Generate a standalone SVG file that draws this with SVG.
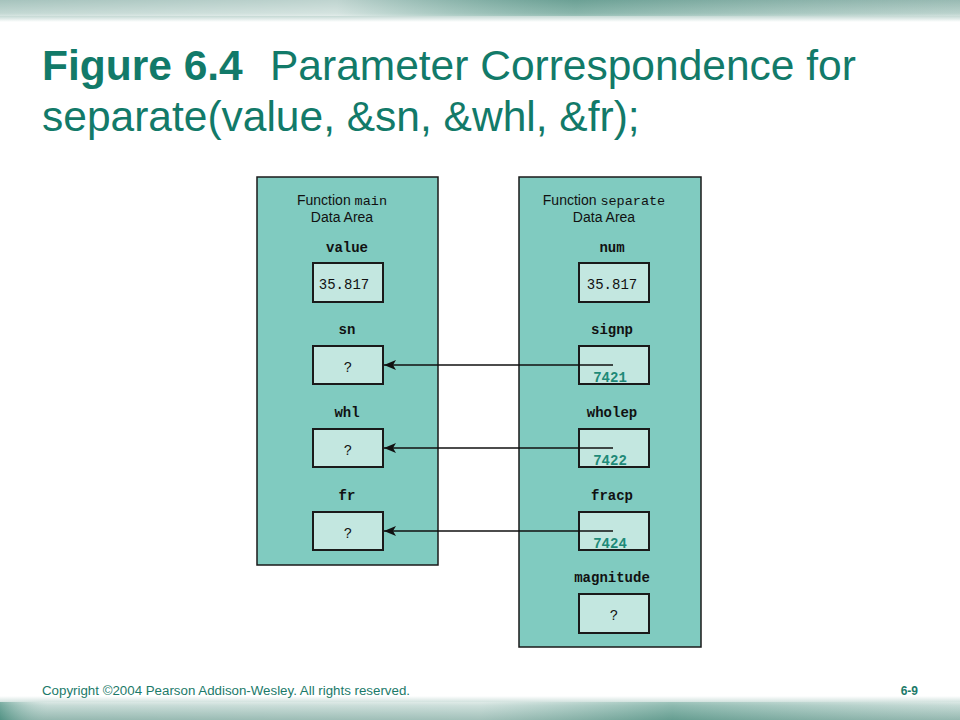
<svg xmlns="http://www.w3.org/2000/svg" width="960" height="720" viewBox="0 0 960 720">
<defs>
<linearGradient id="topband" x1="0" y1="0" x2="0" y2="1">
<stop offset="0" stop-color="#7fa9a0"/>
<stop offset="0.6" stop-color="#a9c7c0"/>
<stop offset="1" stop-color="#ffffff"/>
</linearGradient>
<linearGradient id="topband2" x1="0" y1="0" x2="1" y2="0">
<stop offset="0" stop-color="#ffffff" stop-opacity="0.3"/>
<stop offset="0.35" stop-color="#ffffff" stop-opacity="0.5"/>
<stop offset="0.6" stop-color="#3d8c7a" stop-opacity="0.3"/>
<stop offset="1" stop-color="#ffffff" stop-opacity="0.2"/>
</linearGradient>
<linearGradient id="botband" x1="0" y1="0" x2="0" y2="1">
<stop offset="0" stop-color="#ffffff"/>
<stop offset="0.4" stop-color="#b7d1cb"/>
<stop offset="1" stop-color="#7aa69c"/>
</linearGradient>
<linearGradient id="botband2" x1="0" y1="0" x2="1" y2="0">
<stop offset="0" stop-color="#2c7f6d" stop-opacity="0.5"/>
<stop offset="0.05" stop-color="#ffffff" stop-opacity="0.2"/>
<stop offset="0.5" stop-color="#ffffff" stop-opacity="0.3"/>
<stop offset="0.7" stop-color="#3d8c7a" stop-opacity="0.35"/>
<stop offset="1" stop-color="#ffffff" stop-opacity="0.2"/>
</linearGradient>
<marker id="arr" viewBox="0 0 12 10" refX="12" refY="5" markerWidth="12" markerHeight="10" markerUnits="userSpaceOnUse" orient="auto">
<path d="M0,0 L12,5 L0,10 L3,5 Z" fill="#111"/>
</marker>
<style>
.title{font-family:"Liberation Sans",Arial,sans-serif;font-size:42.5px;fill:#127a69}
.panel{fill:#80cbc0;stroke:#1a1a1a;stroke-width:1.5}
.box{fill:#c3e7e0;stroke:#1a1a1a;stroke-width:2}
.hdr{font-family:"Liberation Sans",Arial,sans-serif;font-size:14px;fill:#111;text-anchor:middle}
.mono{font-family:"Liberation Mono","Courier New",monospace;font-size:13.5px}
.lbl{font-family:"Liberation Mono","Courier New",monospace;font-size:14px;font-weight:bold;fill:#111;text-anchor:middle}
.val{font-family:"Liberation Mono","Courier New",monospace;font-size:14px;fill:#111;text-anchor:middle}
.addr{font-family:"Liberation Mono","Courier New",monospace;font-size:14px;font-weight:bold;fill:#1f8a78;text-anchor:middle}
.conn{stroke:#111;stroke-width:1.5;fill:none}
.foot{font-family:"Liberation Sans",Arial,sans-serif;font-size:12px;fill:#1b7a69}
</style>
</defs>
<rect x="0" y="0" width="960" height="720" fill="#ffffff"/>
<rect x="0" y="0" width="960" height="22" fill="url(#topband)"/>
<rect x="0" y="0" width="960" height="16" fill="url(#topband2)"/>
<rect x="0" y="696" width="960" height="24" fill="url(#botband)"/>
<rect x="0" y="702" width="960" height="18" fill="url(#botband2)"/>

<g id="title">
<text class="title" x="42" y="80"><tspan font-weight="bold">Figure 6.4</tspan></text>
<text class="title" x="270" y="80">Parameter Correspondence for</text>
<text class="title" x="42" y="131">separate(value, &amp;sn, &amp;whl, &amp;fr);</text>
</g>

<g id="main-area">
<rect class="panel" x="257" y="177" width="181" height="388"/>
<text class="hdr" x="342" y="205">Function <tspan class="mono">main</tspan></text>
<text class="hdr" x="342" y="222">Data Area</text>
</g>
<g id="separate-area">
<rect class="panel" x="519" y="177" width="182" height="470"/>
<text class="hdr" x="604" y="205">Function <tspan class="mono">separate</tspan></text>
<text class="hdr" x="604" y="222">Data Area</text>
</g>

<g id="value">
<text class="lbl" x="347" y="252">value</text>
<rect class="box" x="313" y="263" width="70" height="39"/>
<text class="val" x="344" y="289">35.817</text>
</g>
<g id="sn">
<text class="lbl" x="347" y="334">sn</text>
<rect class="box" x="313" y="346" width="70" height="38"/>
<text class="val" x="348" y="372">?</text>
</g>
<g id="whl">
<text class="lbl" x="347" y="417">whl</text>
<rect class="box" x="313" y="429" width="70" height="38"/>
<text class="val" x="348" y="455">?</text>
</g>
<g id="fr">
<text class="lbl" x="347" y="500">fr</text>
<rect class="box" x="313" y="512" width="70" height="38"/>
<text class="val" x="348" y="538">?</text>
</g>

<g id="num">
<text class="lbl" x="612" y="252">num</text>
<rect class="box" x="579" y="263" width="70" height="39"/>
<text class="val" x="612" y="289">35.817</text>
</g>
<g id="signp">
<text class="lbl" x="612" y="334">signp</text>
<rect class="box" x="579" y="346" width="70" height="38"/>
<text class="addr" x="610" y="382">7421</text>
</g>
<g id="wholep">
<text class="lbl" x="612" y="417">wholep</text>
<rect class="box" x="579" y="429" width="70" height="38"/>
<text class="addr" x="610" y="465">7422</text>
</g>
<g id="fracp">
<text class="lbl" x="612" y="500">fracp</text>
<rect class="box" x="579" y="512" width="70" height="38"/>
<text class="addr" x="610" y="548">7424</text>
</g>
<g id="magnitude">
<text class="lbl" x="612" y="582">magnitude</text>
<rect class="box" x="579" y="594" width="70" height="39"/>
<text class="val" x="614" y="620">?</text>
</g>

<g id="connectors">
<line class="conn" x1="613" y1="365" x2="384" y2="365" marker-end="url(#arr)"/>
<line class="conn" x1="613" y1="448" x2="384" y2="448" marker-end="url(#arr)"/>
<line class="conn" x1="613" y1="531" x2="384" y2="531" marker-end="url(#arr)"/>
</g>

<g id="footer">
<text class="foot" x="42" y="695" textLength="368" lengthAdjust="spacingAndGlyphs">Copyright ©2004 Pearson Addison-Wesley. All rights reserved.</text>
<text class="foot" x="918" y="695" font-weight="bold" text-anchor="end">6-9</text>
</g>
</svg>
